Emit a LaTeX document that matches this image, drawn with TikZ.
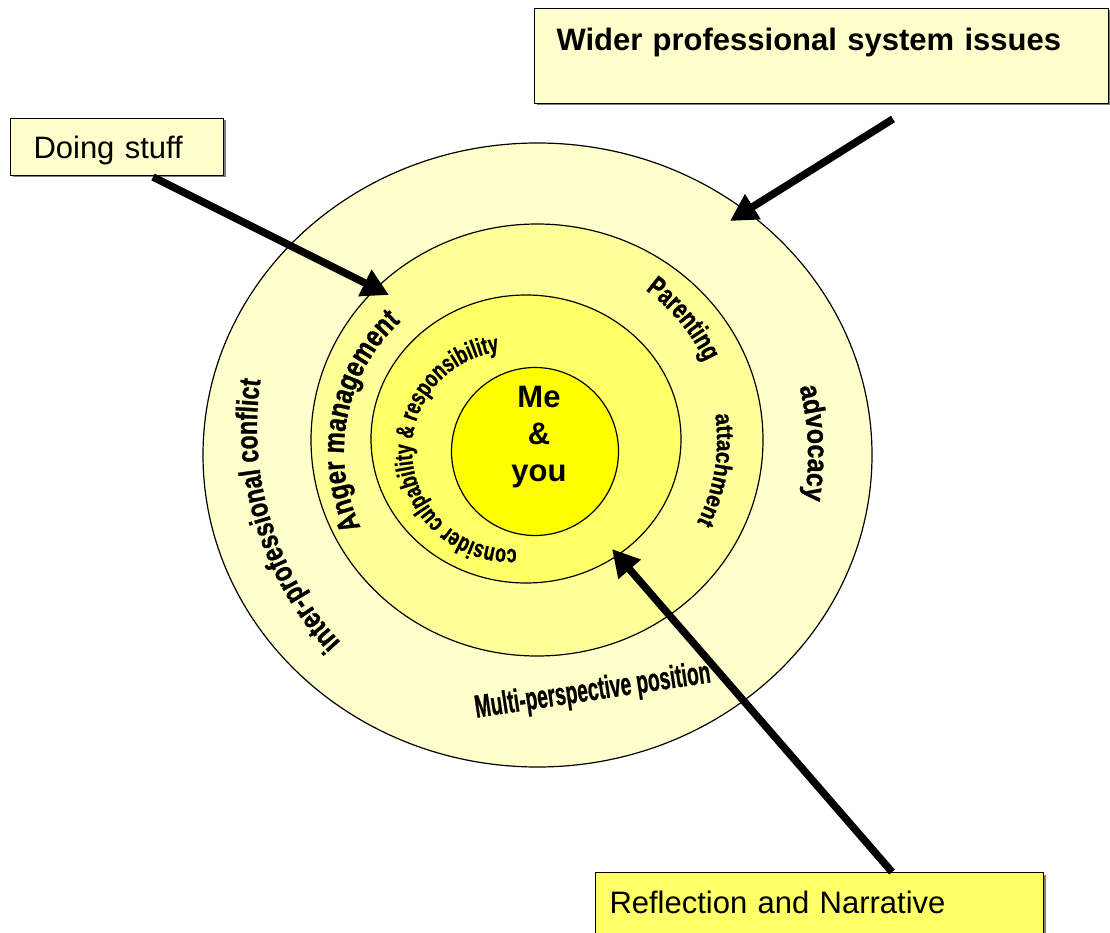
\documentclass[tikz,border=0pt]{standalone}
\usepackage{fontspec}
\usepackage{graphicx}
\setmainfont{Liberation Sans}
\usetikzlibrary{decorations.text, arrows.meta, shadows}
\newfontfamily\fAnger[FakeStretch=0.8, FakeBold=1]{Liberation Sans}
\newfontfamily\fPar[FakeStretch=0.73, FakeBold=1]{Liberation Sans}
\newfontfamily\fAtt[FakeStretch=0.87, FakeBold=1]{Liberation Sans}
\newfontfamily\fAdv[FakeStretch=0.86, FakeBold=1]{Liberation Sans}
\newfontfamily\fCons[FakeStretch=0.71, FakeBold=1]{Liberation Sans}
\newfontfamily\fInter[FakeStretch=0.77, FakeBold=1]{Liberation Sans}
\newfontfamily\fMulti[FakeBold=1]{Liberation Sans}
\definecolor{ringA}{HTML}{FFFFCC}
\definecolor{ringB}{HTML}{FFFF99}
\definecolor{ringC}{HTML}{FFFF66}
\definecolor{ringD}{HTML}{FFFF00}
\begin{document}
\begin{tikzpicture}[x=1pt,y=1pt,
  ring/.style={draw=black, line width=1.2pt},
  labelbox/.style={draw=black, line width=1pt, rectangle, anchor=north west,
    inner xsep=0pt, inner ysep=0pt, align=left,
    font=\fontsize{31}{31}\selectfont,
    drop shadow={shadow xshift=2pt, shadow yshift=-2pt, fill=black!50, opacity=1}},
  bigarrow/.style={line width=7.5pt, -{Triangle[length=27pt,width=28pt]}},
]
\useasboundingbox (0,0) rectangle (1110,-933);
\fill[white] (0,0) rectangle (1110,-933);

% rings
\draw[ring, fill=ringA] (537.5,-455) ellipse [x radius=334.5pt, y radius=312pt];
\draw[ring, fill=ringB] (537,-440) ellipse [x radius=226pt, y radius=216pt];
\draw[ring, fill=ringC] (526,-439) ellipse [x radius=155pt, y radius=144pt];
\draw[ring, fill=ringD] (535,-451.5) ellipse [x radius=83.5pt, y radius=84pt];

% centre
\node[anchor=base, inner sep=0pt] (me) at (539,-407)
  {\bfseries\fontsize{31}{37}\selectfont\begin{tabular}[t]{@{}c@{}}Me\\\&\\you\end{tabular}};

% curved texts
\path[decorate, decoration={text along path, text align=center,
  text={|\fAnger\bfseries\fontsize{30}{30}\selectfont|Anger management}}]
  ([shift={(210:178pt)}]522,-452) arc[start angle=210, end angle=128, radius=178pt];

\path[decorate, decoration={text along path, text align=center,
  text={|\fPar\bfseries\fontsize{28}{28}\selectfont|Parenting}}]
  ([shift={(60:185pt)}]537,-440) arc[start angle=60, end angle=19, radius=185pt];

\path[decorate, decoration={text along path, text align=center,
  text={|\fAtt\bfseries\fontsize{24}{24}\selectfont|attachment}}]
  ([shift={(15:180pt)}]537,-440) arc[start angle=15, end angle=-34, radius=180pt];

\path[decorate, decoration={text along path, text align=center,
  text={|\fAdv\bfseries\fontsize{29}{29}\selectfont|advocacy}}]
  ([shift={(20:271pt)}]537,-455) arc[start angle=20, end angle=-15, radius=271pt];

\path[decorate, decoration={text along path, text align=center,
  text={|\fCons\bfseries\fontsize{25}{25}\selectfont|consider culpability {\&} responsibility}}]
  ([shift={(280:99pt)}]511,-450) arc[start angle=280, end angle=90, radius=99pt];

\path[decorate, decoration={text along path, text align=center,
  text={|\fInter\bfseries\fontsize{30}{30}\selectfont|inter-professional conflict}}]
  ([shift={(232:316pt)}]573,-428) arc[start angle=232, end angle=162, radius=316pt];

\node[rotate=8.6, anchor=base, inner sep=0pt] (multi) at (594,-700)
  {\fMulti\bfseries\fontsize{32}{32}\selectfont\scalebox{0.6}[1]{Multi-perspective position}};

% boxes
\node[labelbox, fill=ringA, minimum width=213pt, minimum height=57pt,
  text width=167pt, text height=23pt, text depth=0pt] (doing) at (10,-118) {Doing stuff};
\node[labelbox, fill=ringA, minimum width=574pt, minimum height=95pt,
  text width=530pt, text height=23pt, text depth=34pt] (wider) at (534,-8)
  {\bfseries Wider professional system issues};
\node[labelbox, fill=ringC, minimum width=448pt, minimum height=73pt,
  text width=420pt, text height=23pt, text depth=14pt] (refl) at (595,-872)
  {Reflection and Narrative};

% arrows
\coordinate (a1s) at (153,-177);
\coordinate (a1e) at (389,-295);
\coordinate (a2s) at (893,-119);
\coordinate (a2e) at (730,-221);
\coordinate (a3s) at (892,-872);
\coordinate (a3e) at (612,-549);
\draw[bigarrow] (a1s) -- (a1e);
\draw[bigarrow] (a2s) -- (a2e);
\draw[bigarrow] (a3s) -- (a3e);
\end{tikzpicture}
\end{document}
